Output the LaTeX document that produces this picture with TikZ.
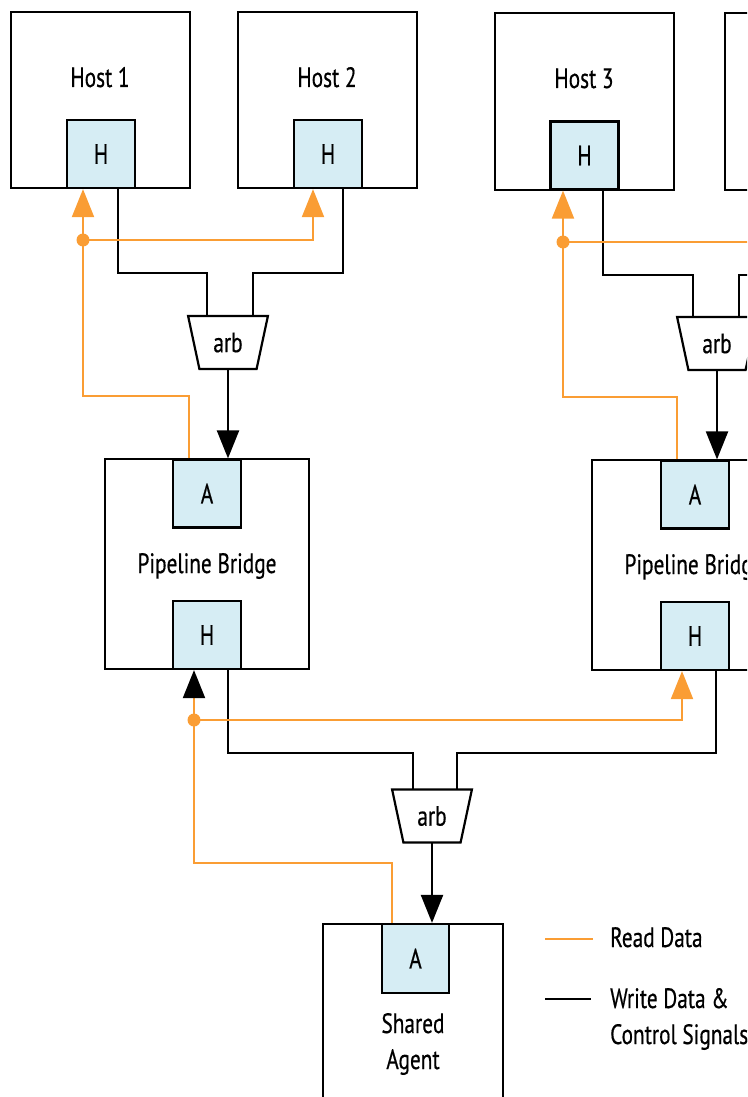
\documentclass[tikz,border=0pt]{standalone}
\usepackage{fontspec}
\setmainfont{PT Sans}[FakeStretch=0.76,FakeBold=0.5]
\usetikzlibrary{arrows.meta,shapes.geometric,calc}
\definecolor{rd}{RGB}{250,157,52}
\definecolor{pf}{RGB}{214,237,244}
\begin{document}
\begin{tikzpicture}[x=1pt,y=-1pt,
  font=\fontsize{28}{33}\selectfont,
  box/.style={draw, line width=2.2pt, fill=white, inner sep=0pt},
  port/.style={draw, line width=2.2pt, fill=pf, minimum width=68pt, minimum height=68pt, inner sep=0pt},
  lbl/.style={anchor=base, inner sep=0pt},
  arbs/.style={draw, line width=2.2pt, fill=white, trapezium, trapezium angle=73.7, trapezium stretches=true, minimum width=80pt, minimum height=53pt, shape border rotate=180, inner sep=0pt},
  wire/.style={line width=2.2pt, draw=black},
  rwire/.style={line width=2pt, draw=rd},
  btip/.style={-{Triangle[length=28pt,width=22pt,color=black]}},
  otip/.style={-{Triangle[length=28pt,width=22pt,color=rd]}},
  dotst/.style={fill=rd}]
\useasboundingbox (0,0) rectangle (747,1097);
\clip (0,0) rectangle (747,1097);

% hosts
\node[box, minimum width=179pt, minimum height=176pt] (host1) at (100.5,100) {};
\node[box, minimum width=179pt, minimum height=176pt] (host2) at (327.5,100) {};
\node[box, minimum width=179pt, minimum height=177pt] (host3) at (584.5,101.5) {};
\node[box, minimum width=179pt, minimum height=177pt] (host4) at (814.5,101.5) {};
\node[lbl] (host1l) at (100,87) {Host 1};
\node[lbl] (host2l) at (327,87) {Host 2};
\node[lbl] (host3l) at (584,88) {Host 3};
\node[port] (h1p) at (101,154) {H};
\node[port] (h2p) at (328,154) {H};
\node[port] (h3p) at (584.5,155.5) {H};
\coordinate (h4p) at (814.5,190);

% arbiters
\node[arbs] (arb1) at (228,342.5) {arb};
\node[arbs] (arb2) at (717,343.5) {arb};
\node[arbs] (arb3) at (432,816) {arb};
\coordinate (a1L) at ($(arb1.center)+(-21,-26.5)$);
\coordinate (a1R) at ($(arb1.center)+(25,-26.5)$);
\coordinate (a1B) at ($(arb1.center)+(0,26.5)$);
\coordinate (a2L) at ($(arb2.center)+(-24,-26.5)$);
\coordinate (a2R) at ($(arb2.center)+(22,-26.5)$);
\coordinate (a2B) at ($(arb2.center)+(0,26.5)$);
\coordinate (a3L) at ($(arb3.center)+(-19,-27)$);
\coordinate (a3R) at ($(arb3.center)+(25,-27)$);
\coordinate (a3B) at ($(arb3.center)+(0,27)$);

% pipeline bridges
\node[box, minimum width=204pt, minimum height=210pt] (pb1) at (207,564) {};
\node[lbl] (pb1l) at (207,573) {Pipeline Bridge};
\node[port] (pb1a) at (207,493.5) {A};
\node[port] (pb1h) at (207,635) {H};
\node[box, minimum width=204pt, minimum height=210pt] (pb2) at (694,565) {};
\node[lbl] (pb2l) at (694,574) {Pipeline Bridge};
\node[port] (pb2a) at (695,494.5) {A};
\node[port] (pb2h) at (695,636) {H};

% shared agent
\node[box, minimum width=180pt, minimum height=236pt] (sa) at (413,1042) {};
\node[port, minimum width=67pt, minimum height=69pt] (saa) at (415.5,958.5) {A};
\node[lbl] (sal1) at (413,1033) {Shared};
\node[lbl] (sal2) at (413,1069) {Agent};

% top-left group
\draw[wire] ($(h1p.south)+(17,0)$) |- (207,273) -- (a1L);
\draw[wire] ($(h2p.south)+(15,0)$) |- (253,273) -- (a1R);
\draw[wire,btip] (a1B) -- (pb1a.north -| a1B);
\coordinate (d1) at (83,240);
\draw[rwire,otip] ($(pb1a.north)+(-18,0)$) -- (189,396) -- (83,396) -- ($(h1p.south)+(-18,0)$);
\draw[rwire,otip] (d1) -| ($(h2p.south)+(-15,0)$);
\fill[dotst] (d1) circle (6.5pt);

% top-right group
\draw[wire] ($(h3p.south)+(18.5,0)$) |- (693,275) -- (a2L);
\draw[wire] ($(h4p)+(18.5,0)$) |- (739,275) -- (a2R);
\draw[wire,btip] (a2B) -- (pb2a.north -| a2B);
\coordinate (d2) at (563,242);
\draw[rwire,otip] ($(pb2a.north)+(-18,0)$) -- (677,397) -- (563,397) -- ($(h3p.south)+(-21.5,0)$);
\draw[rwire,otip] (d2) -| ($(h4p)+(-21.5,0)$);
\fill[dotst] (d2) circle (6.5pt);

% bottom group
\draw[wire] ($(pb1h.south)+(21,0)$) |- (413,753) -- (a3L);
\draw[wire] ($(pb2h.south)+(21,0)$) |- (457,753) -- (a3R);
\draw[wire,btip] (a3B) -- (saa.north -| a3B);
\coordinate (d3) at (194,720);
\draw[rwire,btip] ($(saa.north)+(-23.5,0)$) -- (392,863) -- (194,863) -- ($(pb1h.south)+(-13,0)$);
\draw[rwire,otip] (d3) -| ($(pb2h.south)+(-13,0)$);
\fill[dotst] (d3) circle (6.5pt);

% legend
\coordinate (l1a) at (545,939);
\coordinate (l1b) at (593,939);
\draw[rwire] (l1a) -- (l1b);
\node[lbl, anchor=base west] (l1t) at (610,947) {Read Data};
\coordinate (l2a) at (545,999);
\coordinate (l2b) at (591,999);
\draw[wire] (l2a) -- (l2b);
\node[lbl, anchor=base west] (l2t) at (610,1008) {Write Data \&};
\node[lbl, anchor=base west] (l3t) at (610,1044) {Control Signals};
\end{tikzpicture}
\end{document}
